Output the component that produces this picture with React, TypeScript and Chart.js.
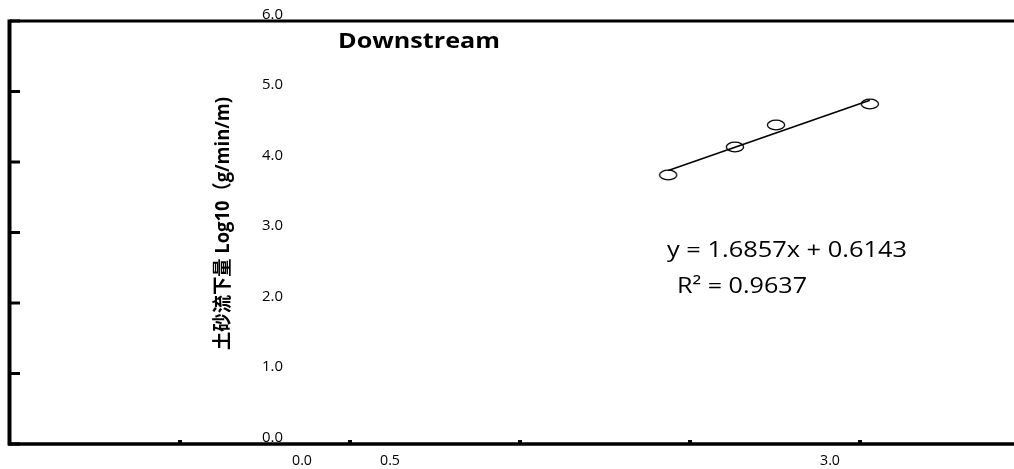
import React, { useEffect, useRef } from "react";
import { Chart, registerables } from "chart.js";

Chart.register(...registerables);

// ---- data ----
const chartTitle = "Downstream";
const yAxisTitle = "土砂流下量 Log10（g/min/m)";
const xValues = [1.936, 2.132, 2.253, 2.529];
const yValues = [3.816, 4.213, 4.525, 4.823];
const trendSlope = 1.6857;
const trendIntercept = 0.6143;
const equationLabel = "y = 1.6857x + 0.6143";
const r2Label = "R² = 0.9637";
const yTickValues = [0, 1, 2, 3, 4, 5, 6];
const yTickLabels = ["0.0", "1.0", "2.0", "3.0", "4.0", "5.0", "6.0"];
const xTickValues = [0, 0.5, 1, 1.5, 2, 2.5];
const xLabelValues = [0, 0.5, 3.0];
const xLabelTexts = ["0.0", "0.5", "3.0"];

const FONT = "'Open Sans', 'Noto Sans CJK SC', sans-serif";

function fitText(
  ctx: CanvasRenderingContext2D,
  text: string,
  x: number,
  y: number,
  targetW: number,
  font: string,
  align: "left" | "center" = "left"
) {
  ctx.save();
  ctx.font = font;
  ctx.textBaseline = "alphabetic";
  ctx.textAlign = "left";
  const w = ctx.measureText(text).width;
  const s = targetW / w;
  const left = align === "center" ? x - targetW / 2 : x;
  ctx.translate(left, y);
  ctx.scale(s, 1);
  ctx.fillStyle = "#000";
  ctx.fillText(text, 0, 0);
  ctx.restore();
}

function makeEllipse(): HTMLCanvasElement {
  const c = document.createElement("canvas");
  c.width = 20;
  c.height = 12;
  const g = c.getContext("2d")!;
  g.strokeStyle = "#000";
  g.lineWidth = 1.3;
  g.beginPath();
  g.ellipse(10, 6, 8.6, 4.8, 0, 0, Math.PI * 2);
  g.stroke();
  return c;
}

const decorPlugin = {
  id: "decor",
  afterDraw(chart: any) {
    const ctx: CanvasRenderingContext2D = chart.ctx;
    const { left, top, bottom } = chart.chartArea;
    const xs = chart.scales.x;
    const ys = chart.scales.y;
    ctx.save();
    ctx.strokeStyle = "#000";
    ctx.fillStyle = "#000";
    // top line
    ctx.lineWidth = 3;
    ctx.beginPath();
    ctx.moveTo(left, top);
    ctx.lineTo(chart.width, top);
    ctx.stroke();
    // bottom axis
    ctx.lineWidth = 3.5;
    ctx.beginPath();
    ctx.moveTo(left - 2, bottom);
    ctx.lineTo(chart.width, bottom);
    ctx.stroke();
    // left axis
    ctx.lineWidth = 4;
    ctx.beginPath();
    ctx.moveTo(left - 0.5, top - 1.5);
    ctx.lineTo(left - 0.5, bottom + 1.5);
    ctx.stroke();
    // y tick marks
    ctx.lineWidth = 3;
    yTickValues.forEach((v) => {
      const py = ys.getPixelForValue(v);
      ctx.beginPath();
      ctx.moveTo(left, py);
      ctx.lineTo(left + 10, py);
      ctx.stroke();
    });
    // x tick marks
    xTickValues.forEach((v) => {
      const px = xs.getPixelForValue(v);
      if (v === 0) return;
      ctx.fillRect(px - 2, bottom - 4, 4, 4);
    });
    ctx.restore();

    // y tick labels
    yTickValues.forEach((v, i) => {
      const py = ys.getPixelForValue(v);
      fitText(ctx, yTickLabels[i], 262, py - 2.5, 21, `14px ${FONT}`);
    });
    // x labels (as placed in the original)
    xLabelValues.forEach((v, i) => {
      fitText(ctx, xLabelTexts[i], 302 + 176 * v, 465, 20, `14px ${FONT}`, "center");
    });
    // title
    fitText(ctx, chartTitle, 338, 48, 162, `bold 21px ${FONT}`);
    // equation
    fitText(ctx, equationLabel, 667, 257, 240, `22px ${FONT}`);
    fitText(ctx, r2Label, 677, 293, 130, `22px ${FONT}`);
    // y-axis title
    ctx.save();
    ctx.font = `bold 17px ${FONT}`;
    ctx.textBaseline = "alphabetic";
    const w = ctx.measureText(yAxisTitle).width;
    const s = 253 / w;
    ctx.translate(229, 350);
    ctx.rotate(-Math.PI / 2);
    ctx.scale(s, 1.15);
    ctx.fillStyle = "#000";
    ctx.fillText(yAxisTitle, 0, 0);
    ctx.restore();
  },
};

export default function App() {
  const ref = useRef<HTMLCanvasElement>(null);
  useEffect(() => {
    if (!ref.current) return;
    const minX = Math.min(...xValues);
    const maxX = Math.max(...xValues);
    const chart = new Chart(ref.current, {
      type: "scatter",
      data: {
        datasets: [
          {
            label: "trend",
            data: [
              { x: minX, y: trendSlope * minX + trendIntercept },
              { x: maxX, y: trendSlope * maxX + trendIntercept },
            ],
            showLine: true,
            borderColor: "#000",
            borderWidth: 1.6,
            pointRadius: 0,
          } as any,
          {
            label: "points",
            data: xValues.map((x, i) => ({ x, y: yValues[i] })),
            pointStyle: makeEllipse() as any,
            pointRadius: 9,
            showLine: false,
          },
        ],
      },
      options: {
        responsive: false,
        animation: false,
        devicePixelRatio: 1,
        layout: { autoPadding: false, padding: { left: 10, top: 21, right: 0, bottom: 25 } },
        plugins: { legend: { display: false }, tooltip: { enabled: false }, title: { display: false } },
        scales: {
          x: { type: "linear", min: 0, max: 1004 / 340, display: false },
          y: { type: "linear", min: 0, max: 6, display: false },
        },
      },
      plugins: [decorPlugin],
    });
    return () => chart.destroy();
  }, []);
  return (
    <div style={{ position: "fixed", left: 0, top: 0, width: 1014, height: 469, background: "#fff" }}>
      <canvas ref={ref} width={1014} height={469} />
    </div>
  );
}
